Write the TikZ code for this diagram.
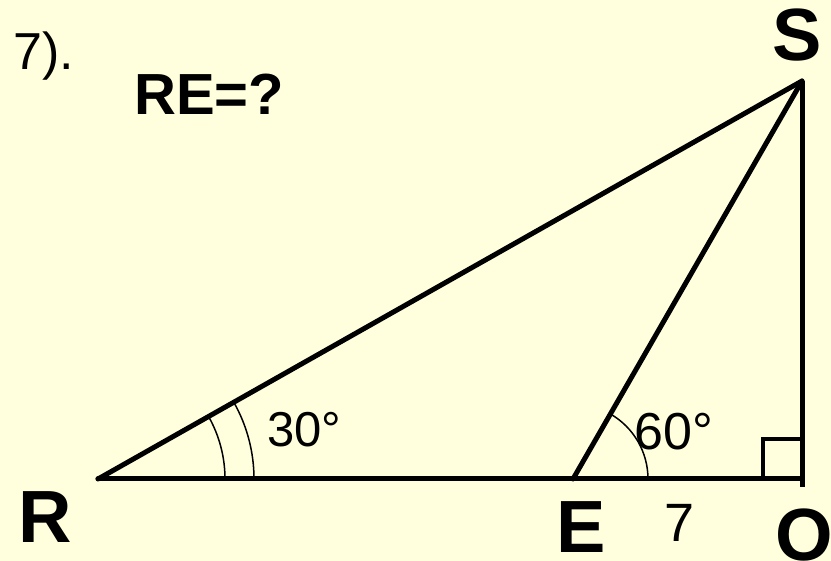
\documentclass[tikz,border=0pt]{standalone}
\usepackage{fontspec}
\setmainfont{Liberation Sans}
\definecolor{bgyellow}{RGB}{255,255,221}
\begin{document}
\begin{tikzpicture}[x=1pt,y=-1pt,
  mainline/.style={line width=5pt, line cap=round, line join=miter},
  anglearc/.style={line width=1.5pt},
  boldlabel/.style={inner sep=0pt, anchor=base west, font=\fontsize{74}{74}\selectfont\bfseries},
  numlabel/.style={inner sep=0pt, anchor=base west}]
\fill[bgyellow] (0,0) rectangle (831,561);
\useasboundingbox (0,0) rectangle (831,561);
\coordinate (R) at (98,479);
\coordinate (E) at (573,479);
\coordinate (O) at (802,479);
\coordinate (S) at (802,81);
\coordinate (Obot) at (802,487);
% triangle lines
\draw[mainline] (R) -- (S);
\draw[mainline] (E) -- (S);
\draw[mainline] (R) -- (O);
\draw[mainline, line cap=butt] (S) -- (Obot);
% right angle mark
\draw[line width=4.5pt] (800,439) -- (763,439) -- (763,479);
% angle arcs
\draw[anglearc] (225,479) arc (0:-29.4:127);
\draw[anglearc] (254,479) arc (0:-29.4:156);
\draw[anglearc] (648,479) arc (0:-60:75);
% labels
\node[boldlabel] (lR) at (18,543) {R};
\node[boldlabel] (lE) at (556,553) {E};
\node[boldlabel] (lS) at (772,61) {S};
\node[boldlabel] (lO) at (775,560) {O};
\node[numlabel, font=\fontsize{54}{54}\selectfont] (l7) at (664,541) {7};
\node[numlabel, font=\fontsize{52}{52}\selectfont] (lnum) at (13,70) {7).};
\node[numlabel, font=\fontsize{58}{58}\selectfont\bfseries] (lq) at (134,115) {RE=?};
\node[numlabel, font=\fontsize{49}{49}\selectfont] (l30) at (267,447) {30°};
\node[numlabel, font=\fontsize{52}{52}\selectfont] (l60) at (634,450) {60°};
\end{tikzpicture}
\end{document}
